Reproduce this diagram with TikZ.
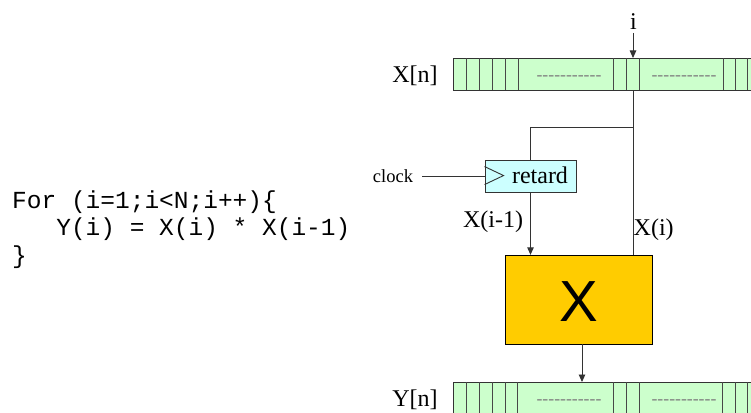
\documentclass[tikz,border=0pt]{standalone}
\usepackage{fontspec}
\setmainfont{Liberation Serif}
\newfontfamily\codefont{Liberation Mono}
\newfontfamily\opfont{Liberation Sans}
\usetikzlibrary{arrows.meta}

\definecolor{cellgreen}{HTML}{CCFFCC}
\definecolor{regcyan}{HTML}{CCFFFF}
\definecolor{opyellow}{HTML}{FFCC00}
\definecolor{wire}{HTML}{333333}

% a row of eleven hyphens, kept apart so they do not merge into dashes
\def\hyphenrun{-\kern0pt-\kern0pt-\kern0pt-\kern0pt-\kern0pt-\kern0pt-\kern0pt-\kern0pt-\kern0pt-\kern0pt-}

\tikzset{
  wireline/.style={draw=wire, line width=0.9pt},
  arr/.style={wireline, -{Triangle[width=6.5pt,length=7.5pt]}},
  arraybox/.style={draw=wire, line width=0.9pt, fill=cellgreen, anchor=north west,
    minimum width=320pt, minimum height=32pt, inner sep=0pt},
  cellline/.style={draw=wire!90, line width=0.9pt},
  gap/.style={font=\fontsize{17.7}{18}\selectfont, text=gray, inner sep=0pt},
  lbl/.style={font=\fontsize{24}{26}\selectfont, inner sep=0pt, anchor=base},
  codeline/.style={font=\codefont\fontsize{24.5}{27}\selectfont, inner sep=0pt, anchor=base west},
}

\begin{document}
\begin{tikzpicture}[x=1pt, y=-1pt]
\useasboundingbox (0,0) rectangle (751,412);
\clip (0,0) rectangle (751,412);

% the loop being mapped to hardware
\node[codeline] (code1) at (12,208) {For (i=1;i<N;i++)\{};
\node[codeline] (code2) at (12,235.5) {\ \ \ Y(i) = X(i) * X(i-1)};
\node[codeline] (code3) at (12,263) {\}};

% input array X[n]
\node[arraybox] (xarr) at (453,58) {};
\node[lbl] (xname) at (415,82) {X[n]};
\foreach \cx in {466.7,479.7,492.3,505,518,613.3,626.7,639.3,723.3,735.3,747.7}
  \draw[cellline] (\cx,58) -- (\cx,90);
\node[gap] (xgap1) at (569,77.7) {\hyphenrun};
\node[gap] (xgap2) at (684,77.7) {\hyphenrun};

% output array Y[n]
\node[arraybox] (yarr) at (453,382) {};
\node[lbl] (yname) at (415,406) {Y[n]};
\foreach \cx in {466.7,479.7,492.3,505,517.7,613.3,626.7,639.3,722.3,735.7,747.7}
  \draw[cellline] (\cx,382) -- (\cx,414);
\node[gap] (ygap1) at (569,401.7) {\hyphenrun};
\node[gap] (ygap2) at (684,401.7) {\hyphenrun};

% index pointer
\node[lbl] (ilbl) at (633.5,30) {i};
\coordinate (xin) at (633,58);
\draw[arr] (633,33) -- (xin);

% delay register
\node[draw=wire, line width=0.9pt, fill=regcyan, minimum width=91pt, minimum height=32pt,
      inner sep=0pt] (retard) at (530.5,176) {};
\draw[wireline] (retard.north west) ++(0,7) -- ++(19,9) -- ++(-19,9);
\node[lbl] (rtext) at (540,183) {retard};
\node[lbl, font=\fontsize{18.5}{20}\selectfont] (clk) at (393,182) {clock};
\coordinate (clkend) at (422,176);
\draw[wireline] (clkend) -- (retard.west);

% multiplier
\node[draw=black, line width=0.9pt, fill=opyellow, minimum width=147pt, minimum height=89pt,
      inner sep=0pt] (mult) at (578.5,299.8) {};
\node[anchor=base, inner sep=0pt, font=\opfont\fontsize{58}{60}\selectfont] (mtext) at (578.5,321.7) {X};

% data paths
\coordinate (tap) at (633,90);
\coordinate (branch) at (633,127);
\draw[wireline] (tap) -- (tap |- mult.north);
\draw[wireline] (branch) -| (retard.north);
\draw[arr] (retard.south) -- (retard.south |- mult.north);
\node[lbl] (xprev) at (493,227) {X(i-1)};
\node[lbl, anchor=base west] (xcur) at (633.5,235) {X(i)};
\coordinate (mout) at (582,344.3);
\coordinate (yin) at (582,382);
\draw[arr] (mout) -- (yin);
\end{tikzpicture}
\end{document}
